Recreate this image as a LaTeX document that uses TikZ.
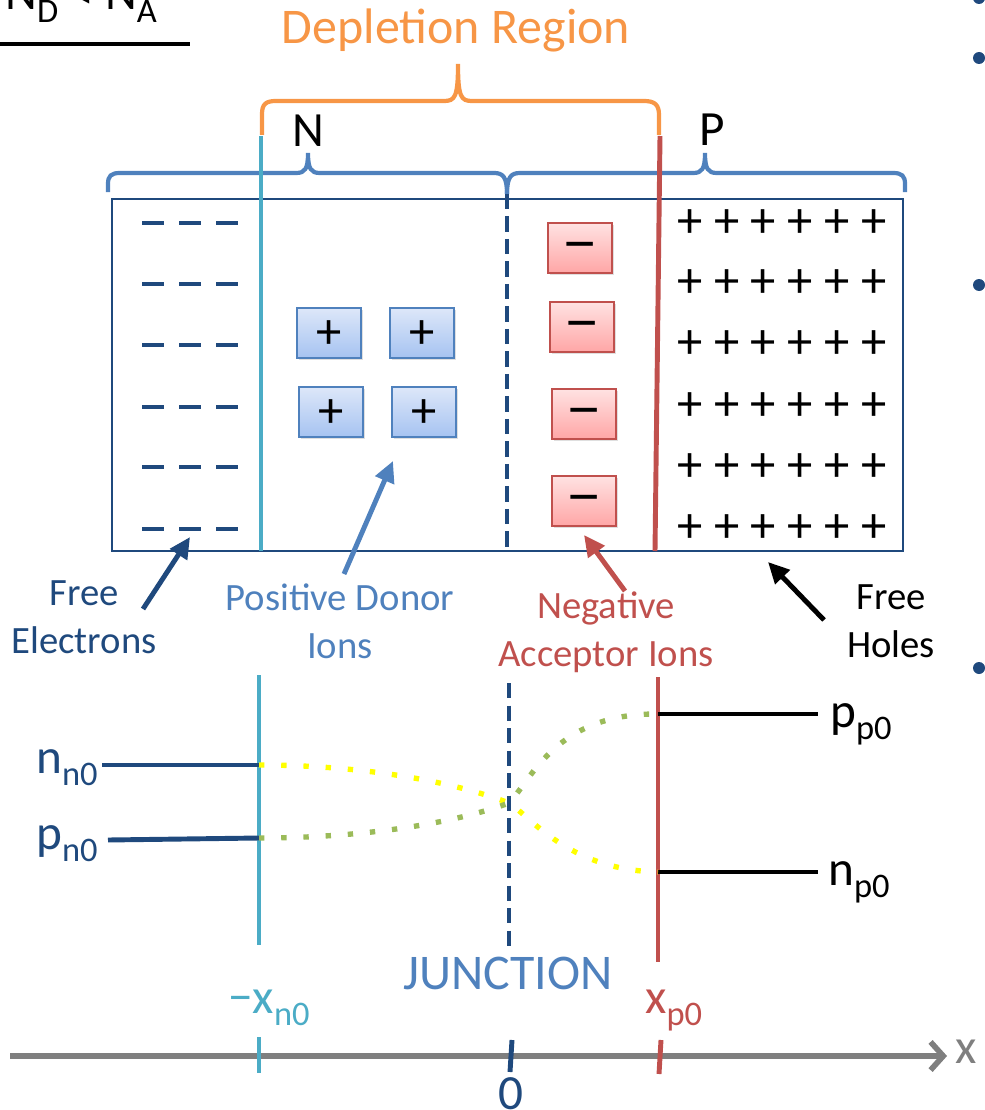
\documentclass[tikz,border=0pt]{standalone}
\usepackage{fontspec}
\setmainfont{Carlito}
\usetikzlibrary{arrows.meta, positioning, calc, shadows}

\definecolor{navy}{HTML}{1F497D}
\definecolor{steel}{HTML}{4F81BD}
\definecolor{aqua}{HTML}{4BACC6}
\definecolor{brick}{HTML}{C0504D}
\definecolor{tang}{HTML}{F79646}
\definecolor{leaf}{HTML}{9BBB59}
\definecolor{lemon}{HTML}{FFFF00}
\definecolor{axisgray}{HTML}{7F7F7F}
\definecolor{donortop}{HTML}{DDE7F9}
\definecolor{donorbot}{HTML}{A6C3F1}
\definecolor{acctop}{HTML}{FFE2E2}
\definecolor{accbot}{HTML}{FFA6A6}

\newcommand{\lowsub}[1]{\raisebox{-0.25em}{\scalebox{0.7}{#1}}}
\newcommand{\widebar}{\scalebox{1.4}[1.2]{−}}

\begin{document}
\begin{tikzpicture}[x=0.025cm, y=-0.025cm,
  lbl/.style={font=\fontsize{27.5}{34}\selectfont, align=center, inner sep=0pt},
  big/.style={font=\fontsize{35.5}{42}\selectfont, inner sep=0pt},
  lvl/.style={font=\fontsize{35}{42}\selectfont, inner sep=0pt},
  sign/.style={font=\fontsize{36}{36}\selectfont, inner sep=0pt, text height=22.4pt, text depth=0pt},
  ion/.style={sign, draw, line width=1.3pt, minimum width=46pt, minimum height=35.5pt,
    drop shadow={shadow xshift=1.5pt, shadow yshift=-1.5pt, opacity=.25}},
  donor/.style={ion, draw=steel, top color=donortop, bottom color=donorbot},
  acceptor/.style={ion, draw=brick, top color=acctop, bottom color=accbot},
  ptr/.style={line width=3.5pt, -{Triangle[length=15pt, width=14pt]}},
  brace/.style={line width=3pt},
  edge/.style={line width=3.5pt},
  dots/.style={line width=3.8pt, dash pattern=on 3.8pt off 12pt},
  jn/.style={navy, line width=3.5pt, dash pattern=on 11pt off 5pt}
]
\useasboundingbox (0,0) rectangle (985,1110);

% heading and slide bullets
\node[lvl, anchor=base west] (ratio) at (5,10) {N\lowsub{D} < N\lowsub{A}};
\draw[line width=3.5pt] (0,44) -- (190,44);
\foreach \y [count=\i] in {-2,58,285,668}
  \fill[navy] (979,\y) circle (6);

% braces
\node[big, tang, anchor=base] (depl) at (456,44) {Depletion Region};
\draw[brace, tang] (262,135) -- (262,114) .. controls (262,104) and (266,101) .. (276,101)
  -- (444,101) .. controls (455,101) and (458,97) .. (458,64)
  .. controls (458,97) and (461,101) .. (472,101) -- (644,101)
  .. controls (655,101) and (659,105) .. (659,115) -- (659,135);
\node[lvl, anchor=base] (nside) at (308,147) {N};
\node[lvl, anchor=base] (pside) at (712,146) {P};
\draw[brace, steel] (108,192) -- (108,184) .. controls (108,176) and (111,173) .. (120,173)
  -- (296,173) .. controls (305,173) and (308,169) .. (308,153)
  .. controls (308,169) and (311,173) .. (320,173) -- (494,173)
  .. controls (503,173) and (507,177) .. (507,194);
\draw[brace, steel] (507,194) .. controls (507,177) and (511,173) .. (520,173)
  -- (693,173) .. controls (702,173) and (705,169) .. (705,153)
  .. controls (705,169) and (708,173) .. (717,173) -- (893,173)
  .. controls (902,173) and (905,176) .. (905,184) -- (905,192);

% crystal bar
\draw[navy, line width=1.4pt] (112,199) rectangle (903,551);
\draw[edge, aqua] (261,136) -- (261,551);
\draw[edge, brick] (660,136) -- (655,551);
\draw[jn] (507,194) -- (507,551);

% free electrons
\foreach \y in {223,284,345,407,467,529}
  \foreach \x in {153,190,227}
    \draw[navy, line width=2.2pt] (\x-11,\y) -- (\x+11,\y);
% free holes
\foreach \y in {222,282,343,405,466,527}
  \foreach \x [count=\i] in {690,727,763,800,837,874}
    \node[sign] (h-\y-\i) at (\x,\y) {+};

% ions
\node[donor] (d1) at (329,333) {+};
\node[donor] (d2) at (422,333) {+};
\node[donor] (d3) at (331,412) {+};
\node[donor] (d4) at (424,412) {+};
\node[acceptor] (a1) at (580,248) {\widebar};
\node[acceptor] (a2) at (582,327) {\widebar};
\node[acceptor] (a3) at (584,414) {\widebar};
\node[acceptor] (a4) at (584,501) {\widebar};

% labels and pointers
\node[lbl, navy, anchor=base] (elec) at (84,653) {Free\\Electrons};
\node[lbl, steel, anchor=base] (donl) at (340,658) {Positive Donor\\Ions};
\node[lbl, brick, anchor=base] (accl) at (606,666) {Negative\\Acceptor Ions};
\node[lbl, anchor=base] (hole) at (891,657) {Free\\Holes};
\coordinate (elecT) at (143,609);  \coordinate (elecH) at (190,537);
\coordinate (donT) at (344,574);   \coordinate (donH) at (393,461);
\coordinate (accT) at (625,591);   \coordinate (accH) at (584,535);
\coordinate (holeT) at (824,620);  \coordinate (holeH) at (768,562);
\draw[ptr, navy] (elecT) -- (elecH);
\draw[ptr, steel] (donT) -- (donH);
\draw[ptr, brick] (accT) -- (accH);
\draw[ptr] (holeT) -- (holeH);

% carrier levels
\coordinate (xn-n) at (259,765);  \coordinate (xn-p) at (259,838);
\coordinate (xp-p) at (658,714);  \coordinate (xp-n) at (658,872);
\coordinate (jx) at (509,803);
\draw[edge, aqua] (259,675) -- (259,945);
\draw[jn] (509,683) -- (509,948);
\draw[edge, brick] (658,677) -- (658,962);
\node[lvl, navy, anchor=base east] (nn0) at (98,773) {n\lowsub{n0}};
\node[lvl, navy, anchor=base east] (pn0) at (98,849) {p\lowsub{n0}};
\node[lvl, anchor=base west] (pp0) at (830,727) {p\lowsub{p0}};
\node[lvl, anchor=base west] (np0) at (828,885) {n\lowsub{p0}};
\draw[edge, navy] (102,765) -- (xn-n);
\draw[edge, navy] (108,840) -- (xn-p);
\draw[edge] (xp-p) -- (818,714);
\draw[edge] (xp-n) -- (818,872);
\draw[dots, lemon] (xn-n) .. controls (360,765) and (452,781) .. (jx)
  .. controls (530,816) and (568,870) .. (xp-n);
\draw[dots, leaf] (xn-p) .. controls (360,838) and (452,824) .. (jx)
  .. controls (532,779) and (556,713) .. (xp-p);

% position axis
\node[big, steel, anchor=base] (junc) at (508,989) {JUNCTION};
\node[lvl, aqua, anchor=base west] (xn0) at (228,1013) {−x\lowsub{n0}};
\node[lvl, brick, anchor=base west] (xp0) at (645,1013) {x\lowsub{p0}};
\node[lvl, navy, anchor=base] (zero) at (511,1109) {0};
\node[lvl, axisgray, anchor=base west] (xlab) at (955,1063) {x};
\coordinate (axL) at (10,1056);
\coordinate (axR) at (947,1056);
\draw[axisgray, line width=4pt, -{Straight Barb[length=9pt, width=20pt]}] (axL) -- (axR);
\draw[edge, aqua] (259,1037) -- (259,1073);
\draw[edge, navy] (512,1040) -- (510,1072);
\draw[edge, brick] (661,1040) -- (659,1074);
\end{tikzpicture}
\end{document}
